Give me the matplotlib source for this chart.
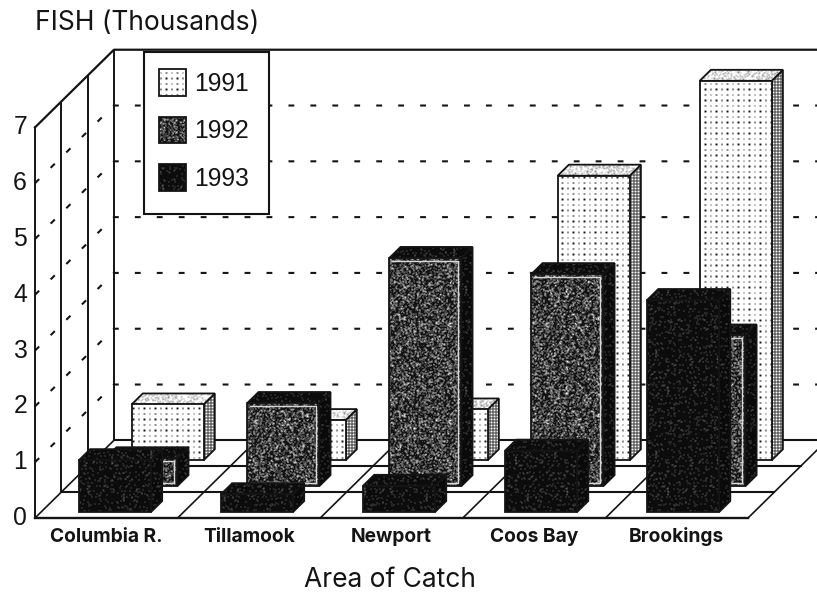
import numpy as np
import matplotlib
matplotlib.use('Agg')
import matplotlib.pyplot as plt
from matplotlib.patches import Polygon, Rectangle

plt.rcParams['font.family'] = ['Liberation Sans', 'DejaVu Sans']
plt.rcParams['lines.scale_dashes'] = False

# values (thousands of fish)
categories = ['Columbia R.', 'Tillamook', 'Newport', 'Coos Bay', 'Brookings']
years = ['1991', '1992', '1993']
fish_1991 = [1.0, 0.72, 0.91, 5.1, 6.8]
fish_1992 = [0.5, 1.49, 4.09, 3.8, 2.7]
fish_1993 = [0.93, 0.32, 0.47, 1.1, 3.8]
value_ticks = [0, 1, 2, 3, 4, 5, 6, 7]

W, H = 817, 599
INK = '#141414'
# oblique projection, one depth row moves the point right and up
ROW_DX = 0.1845
ROW_DY = 0.464
ROWS = 3
BAR_STEP = 0.996
BAR_LEFT, BAR_RIGHT = 0.266, 0.771
INSET, BAR_DEPTH = 0.23, 0.425


def project(x, value, depth):
    return x + depth * ROW_DX, value + depth * ROW_DY


def box(a, n):
    out = np.zeros_like(a)
    for dy in range(n):
        for dx in range(n):
            out += np.roll(np.roll(a, dy, 0), dx, 1)
    return out / (n * n)


# print screens, as greyscale pictures the size of the figure
yy, xx = np.mgrid[0:H, 0:W]
speckle = ((xx * xx * 31 + yy * yy * 17 + xx * yy * 13 + xx * 7 + yy * 3) % 101) / 100.0
grain = ((xx * xx * xx * 5 + yy * yy * 23 + xx * yy * yy * 11 + yy * 29) % 97) / 96.0

dots = np.ones((H, W))
dots[(np.round(xx % 5.5) < 2) & (np.round(yy % 5.5) < 2)] = 0.0
dots = 0.1 + 0.9 * box(dots, 2)

mesh = np.ones((H, W))
mesh[(xx % 3 == 0) | (yy % 3 == 0)] = 0.2
mesh = box(mesh, 2)

top_light = 0.55 + 0.45 * box((speckle > 0.25) * 1.0, 2)

grey = 0.08 + 0.7 * box((grain > 0.76) * 1.0, 2)
grey = np.clip(grey + 0.2 * ((speckle > 0.92) * 1.0), 0.0, 1.0)

dark = 0.05 + 0.4 * box((speckle > 0.93) * 1.0, 2)
dark_side = 0.04 + 0.4 * box((speckle > 0.94) * 1.0, 2)

faces = {
    0: (dots, mesh, top_light),
    1: (grey, dark_side, dark),
    2: (dark, dark_side, dark),
}

fig = plt.figure(figsize=(W / 100, H / 100), dpi=100, facecolor='white')
ax = fig.add_axes([0, 0, 1, 1])
px_x, px_y = 142.6, 55.8
x_lim = (-35 / px_x, (W - 35) / px_x)
y_lim = (-(H - 518) / px_y, 518 / px_y)
ax.axis('off')

zorder = [10]


def textured(points, tex, transform=None):
    zorder[0] += 1
    poly = Polygon(points, closed=True, fc='none', ec=INK, lw=1.3,
                   joinstyle='miter', zorder=zorder[0] + 0.5)
    if transform is not None:
        poly.set_transform(transform)
    ax.add_patch(poly)
    im = ax.imshow(tex, cmap='gray', vmin=0, vmax=1, extent=(*x_lim, *y_lim),
                   origin='upper', aspect='auto', interpolation='nearest',
                   zorder=zorder[0])
    im.set_clip_path(poly)


# walls and floor
for r in range(ROWS + 1):
    x0, y0 = project(0, 0, r)
    x1, y1 = project(5, 0, r)
    ax.plot([x0, x1], [y0, y1], color=INK, lw=1.5 if r else 1.7, zorder=2)
    x2, y2 = project(0, 7, r)
    ax.plot([x0, x2], [y0, y2], color=INK, lw=1.4, zorder=2)
for i in range(6):
    x0, y0 = project(i, 0, 0)
    x1, y1 = project(i, 0, ROWS)
    ax.plot([x0, x1], [y0, y1], color=INK, lw=1.2, zorder=2)

xa, ya = project(0, 7, 0)
xb, yb = project(0, 7, ROWS)
xc, yc = project(5, 7, ROWS)
ax.plot([xa, xb, xc], [ya, yb, yc], color=INK, lw=1.6, zorder=2)

for v in value_ticks[1:-1]:
    xa, ya = project(0, v, 0)
    xb, yb = project(0, v, ROWS)
    xc, yc = project(5, v, ROWS)
    ax.plot([xa, xb, xc], [ya, yb, yc], color=INK, lw=1.5,
            linestyle=(0, (4.2, 11.6)), zorder=3)

# bars, back row first
for row, series in zip([2, 1, 0], [fish_1991, fish_1992, fish_1993]):
    front_tex, side_tex, top_tex = faces[2 - row]
    d0 = row + INSET
    d1 = d0 + BAR_DEPTH
    for i, v in enumerate(series):
        l, r = i * BAR_STEP + BAR_LEFT, i * BAR_STEP + BAR_RIGHT
        front = [project(l, 0, d0), project(r, 0, d0), project(r, v, d0), project(l, v, d0)]
        side = [project(r, 0, d0), project(r, 0, d1), project(r, v, d1), project(r, v, d0)]
        top = [project(l, v, d0), project(r, v, d0), project(r, v, d1), project(l, v, d1)]
        textured(side, side_tex)
        textured(top, top_tex)
        textured(front, front_tex)
        if row == 1:
            # light rim inside the 1992 fronts
            ix, iy = 3 / px_x, 3 / px_y
            (fx0, fy0), (fx1, fy1) = project(l, 0, d0), project(r, v, d0)
            ax.plot([fx0 + ix, fx1 - ix, fx1 - ix, fx0 + ix],
                    [fy1 - iy, fy1 - iy, fy0 + iy, fy0 + iy],
                    color='#d8d8d8', lw=1.0, zorder=zorder[0] + 0.2)

ax.set_xlim(*x_lim)
ax.set_ylim(*y_lim)

# axis text
for v in value_ticks:
    ax.text(-8 / px_x, v, str(v), ha='right', va='center', fontsize=17.8, color=INK)
for i, name in enumerate(categories):
    ax.text(i + 0.5, -19 / px_y, name, ha='center', va='center', fontsize=13.8,
            fontweight='bold', color=INK, family=['Inter', 'DejaVu Sans'])
fig.text(35 / W, 1 - 23 / H, 'FISH (Thousands)', ha='left', va='center', fontsize=19,
         color=INK, family=['Inter', 'DejaVu Sans'])
fig.text(390 / W, 1 - 580 / H, 'Area of Catch', ha='center', va='center', fontsize=19,
         color=INK, family=['Inter', 'DejaVu Sans'])

# legend box
zorder[0] += 5
ax.add_patch(Rectangle((144 / W, 1 - 214 / H), 125 / W, 162 / H, transform=fig.transFigure,
                       fc='white', ec=INK, lw=1.5, zorder=zorder[0]))
for k, year in enumerate(years):
    top_px = 69 + 47.5 * k
    rect = [(159 / W, 1 - top_px / H), (186 / W, 1 - top_px / H),
            (186 / W, 1 - (top_px + 27) / H), (159 / W, 1 - (top_px + 27) / H)]
    textured(rect, faces[k][0], transform=fig.transFigure)
    zorder[0] += 1
    fig.text(194 / W, 1 - (top_px + 15) / H, year, ha='left', va='center', fontsize=17.8,
             color=INK, zorder=zorder[0])

fig.savefig('out.png', dpi=100, facecolor='white')
